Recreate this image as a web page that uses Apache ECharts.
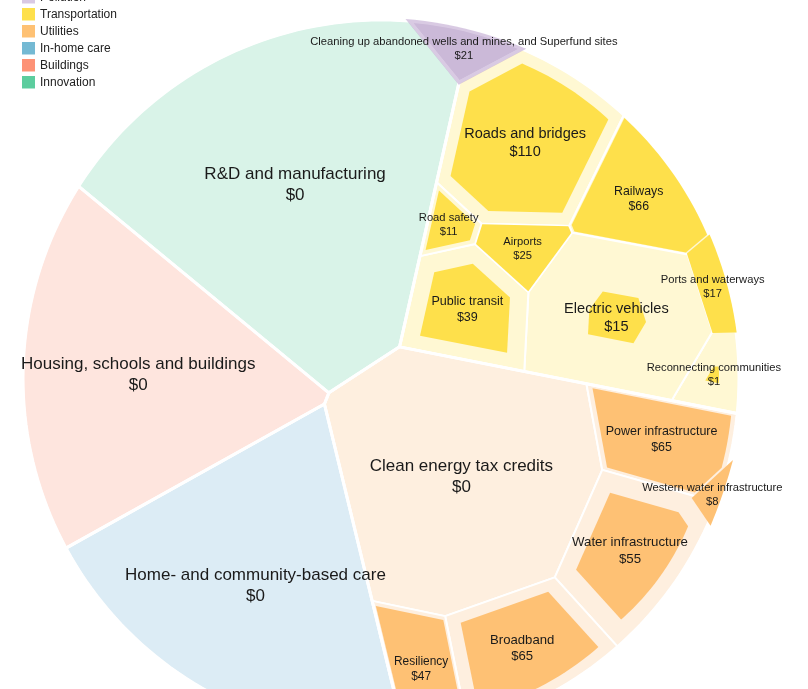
<!DOCTYPE html>
<html><head><meta charset="utf-8">
<script src="https://cdn.jsdelivr.net/npm/echarts@6/dist/echarts.min.js"></script>
<style>html,body{margin:0;padding:0;background:#fff}#c{width:808px;height:689px}</style>
</head><body><div id="c"></div>
<script>
// ---------------- DATA ----------------
const categories = ['Pollution','Transportation','Utilities','In-home care','Buildings','Innovation'];
const itemNames = [
  'Cleaning up abandoned wells and mines, and Superfund sites',
  'Roads and bridges','Railways','Ports and waterways','Reconnecting communities','Electric vehicles','Public transit','Airports','Road safety',
  'Clean energy tax credits','Power infrastructure','Western water infrastructure','Water infrastructure','Broadband','Resiliency',
  'Home- and community-based care','Housing, schools and buildings','R&D and manufacturing'
];
const itemCategory = [
  'Pollution',
  'Transportation','Transportation','Transportation','Transportation','Transportation','Transportation','Transportation','Transportation',
  'Utilities','Utilities','Utilities','Utilities','Utilities','Utilities',
  'In-home care','Buildings','Innovation'
];
// proposed amounts (cell size, $ billions)
const itemProposed = [18, 155,71,16,24,158,80,26,17, 373,77,4,107,102,55, 425,400,585];
// infrastructure deal amounts ($ billions, labels)
const itemDeal     = [21, 110,66,17,1,15,39,25,11, 0,65,8,55,65,47, 0,0,0];

// ---------------- STYLE / LAYOUT ----------------
const legendColors = {'Pollution':'#d9c9e3','Transportation':'#fee04b','Utilities':'#fec174','In-home care':'#74b9d3','Buildings':'#fd9276','Innovation':'#5ccd9e'};
const darkColors   = {'Pollution':'rgba(179,149,199,0.5)','Transportation':'#fee04b','Utilities':'#fec174','In-home care':'#74b9d3','Buildings':'#fd9276','Innovation':'#5ccd9e'};
const lightColors  = {'Pollution':'#e3dde9','Transportation':'#fff8d3','Utilities':'#feefdf','In-home care':'#dcecf5','Buildings':'#fee5de','Innovation':'#d9f3e8'};
const W = 808, H = 689, CX = 381, CY = 378, RPX = 358;
const TOP_START = 76;                 // degrees, categories laid clockwise from here
const GROUP_START = {'Transportation':140, 'Utilities':200};
const FONT = 'Liberation Sans, Arial, Helvetica, sans-serif';

// ---------------- GEOMETRY ----------------
function clipHalf(poly, a, b, c) {
  const out = [], n = poly.length;
  for (let i = 0; i < n; i++) {
    const P = poly[i], Q = poly[(i + 1) % n];
    const fp = a * P[0] + b * P[1] - c, fq = a * Q[0] + b * Q[1] - c;
    if (fp <= 0) out.push(P);
    if ((fp <= 0) !== (fq <= 0)) {
      const t = fp / (fp - fq);
      out.push([P[0] + t * (Q[0] - P[0]), P[1] + t * (Q[1] - P[1])]);
    }
  }
  return out;
}
function polyArea(p) {
  if (!p || p.length < 3) return 0;
  let s = 0;
  for (let i = 0; i < p.length; i++) { const a = p[i], b = p[(i + 1) % p.length]; s += a[0] * b[1] - b[0] * a[1]; }
  return Math.abs(s) / 2;
}
function polyCentroid(p) {
  let a = 0, cx = 0, cy = 0;
  for (let i = 0; i < p.length; i++) {
    const [x0, y0] = p[i], [x1, y1] = p[(i + 1) % p.length];
    const f = x0 * y1 - x1 * y0; a += f; cx += (x0 + x1) * f; cy += (y0 + y1) * f;
  }
  a *= 0.5;
  return [cx / (6 * a), cy / (6 * a)];
}
function inside(p, poly) {
  let c = false;
  for (let i = 0, j = poly.length - 1; i < poly.length; j = i++) {
    const xi = poly[i][0], yi = poly[i][1], xj = poly[j][0], yj = poly[j][1];
    if (((yi > p[1]) !== (yj > p[1])) && (p[0] < (xj - xi) * (p[1] - yi) / (yj - yi) + xi)) c = !c;
  }
  return c;
}
function powerDiagram(sites, w, clip) {
  return sites.map((p, i) => {
    let poly = clip;
    for (let j = 0; j < sites.length; j++) {
      if (j === i) continue;
      const q = sites[j];
      const a = 2 * (q[0] - p[0]), b = 2 * (q[1] - p[1]);
      const c = (q[0] * q[0] + q[1] * q[1]) - (p[0] * p[0] + p[1] * p[1]) - w[j] + w[i];
      poly = clipHalf(poly, a, b, c);
      if (poly.length < 3) return [];
    }
    return poly;
  });
}
function voronoiTreemap(clip, values, init) {
  const n = values.length;
  if (n === 1) return [clip];
  const A = polyArea(clip), tot = values.reduce((s, v) => s + v, 0);
  const target = values.map(v => v / tot * A);
  const sites = init.map(p => p.slice());
  const w = values.map(() => A / n * 0.2);
  let cells = powerDiagram(sites, w, clip);
  for (let it = 0; it < 1500; it++) {
    const areas = cells.map(polyArea);
    let err = 0;
    for (let i = 0; i < n; i++) err += Math.abs(areas[i] - target[i]);
    if (err / A < 0.002) break;
    for (let i = 0; i < n; i++) if (areas[i] > A * 1e-9) sites[i] = polyCentroid(cells[i]);
    const lim = Math.max(0.03, 0.4 * Math.pow(0.995, it));
    for (let i = 0; i < n; i++) {
      let r = areas[i] > A * 1e-9 ? target[i] / areas[i] : 1 + lim;
      r = Math.min(1 + lim, Math.max(1 - lim, r));
      w[i] = Math.max(w[i] * r, A * 1e-7);
    }
    for (let pass = 0; pass < 4; pass++)
      for (let i = 0; i < n; i++) for (let j = 0; j < n; j++) {
        if (i === j) continue;
        const dx = sites[i][0] - sites[j][0], dy = sites[i][1] - sites[j][1];
        const d2 = dx * dx + dy * dy;
        if (w[i] - w[j] > d2) w[i] = w[j] + d2 * 0.999;
      }
    cells = powerDiagram(sites, w, clip);
  }
  return cells;
}
function ringSites(center, radius, clip, values, startDeg) {
  const tot = values.reduce((s, v) => s + v, 0);
  let cum = 0;
  return values.map(v => {
    const th = (startDeg - (cum + v / 2) / tot * 360) * Math.PI / 180;
    cum += v;
    let r = radius, p;
    for (let k = 0; k < 30; k++) {
      p = [center[0] + r * Math.cos(th), center[1] + r * Math.sin(th)];
      if (inside(p, clip)) break;
      r *= 0.8;
    }
    return p;
  });
}

// ---------------- LAYOUT ----------------
const circle = [];
for (let k = 0; k < 240; k++) { const t = k / 240 * Math.PI * 2; circle.push([Math.cos(t), Math.sin(t)]); }

const catTotals = categories.map(c => itemProposed.reduce((s, v, i) => s + (itemCategory[i] === c ? v : 0), 0));
const catCells = voronoiTreemap(circle, catTotals, ringSites([0, 0], 0.55, circle, catTotals, TOP_START));

const itemCells = new Array(itemNames.length);
categories.forEach((c, k) => {
  const idx = itemNames.map((n, i) => i).filter(i => itemCategory[i] === c);
  const vals = idx.map(i => itemProposed[i]);
  const clip = catCells[k];
  const cc = polyCentroid(clip), rp = Math.sqrt(polyArea(clip) / Math.PI);
  const init = ringSites(cc, 0.55 * rp, clip, vals, GROUP_START[c] !== undefined ? GROUP_START[c] : 90);
  const cells = voronoiTreemap(clip, vals, init);
  idx.forEach((i, m) => { itemCells[i] = cells[m]; });
});
const itemCentroids = itemCells.map(polyCentroid);
const darkCells = itemCells.map((cell, i) => {
  if (!(itemDeal[i] > 0)) return null;
  const s = Math.sqrt(itemDeal[i] / itemProposed[i]);
  const c = itemCentroids[i];
  return cell.map(p => [c[0] + s * (p[0] - c[0]), c[1] + s * (p[1] - c[1])]);
});

// ---------------- CHART ----------------
const chart = echarts.init(document.getElementById('c'), null, {renderer: 'canvas'});
const XMIN = -CX / RPX, XMAX = (W - CX) / RPX, YMAX = CY / RPX, YMIN = -(H - CY) / RPX;

const legendSeries = categories.map(c => ({type: 'scatter', name: c, data: [], itemStyle: {color: legendColors[c], opacity: 1}}));

const option = {
  animation: false,
  grid: {left: 0, right: 0, top: 0, bottom: 0},
  xAxis: {type: 'value', min: XMIN, max: XMAX, show: false},
  yAxis: {type: 'value', min: YMIN, max: YMAX, show: false},
  legend: {
    orient: 'vertical', left: 17, top: -14, itemWidth: 13, itemHeight: 12.5, itemGap: 4.5, icon: 'rect',
    selectedMode: false,
    data: categories.map(c => ({name: c, itemStyle: {color: legendColors[c], opacity: 1}})),
    textStyle: {fontSize: 12, color: '#222', fontFamily: FONT}
  },
  series: legendSeries.concat([
    {
      type: 'custom', name: 'cells', coordinateSystem: 'cartesian2d', clip: false, silent: true, z: 1,
      data: itemNames.map((n, i) => ({name: n, value: itemCentroids[i]})),
      renderItem: (params, api) => {
        const i = params.dataIndex;
        return {type: 'polygon', shape: {points: itemCells[i].map(p => api.coord(p))},
          style: {fill: lightColors[itemCategory[i]], stroke: '#fff', lineWidth: 2, lineJoin: 'round'}};
      }
    },
    {
      type: 'custom', name: 'groups', coordinateSystem: 'cartesian2d', clip: false, silent: true, z: 2,
      data: categories.map((c, k) => ({name: c, value: polyCentroid(catCells[k])})),
      renderItem: (params, api) => {
        const k = params.dataIndex;
        return {type: 'polygon', shape: {points: catCells[k].map(p => api.coord(p))},
          style: {fill: 'none', stroke: '#fff', lineWidth: 3, lineJoin: 'round'}};
      }
    },
    {
      type: 'custom', name: 'deal', coordinateSystem: 'cartesian2d', clip: false, silent: true, z: 3,
      data: itemNames.map((n, i) => ({name: n, value: itemCentroids[i].concat([itemDeal[i]])})),
      renderItem: (params, api) => {
        const i = params.dataIndex;
        if (!darkCells[i]) return null;
        return {type: 'polygon', shape: {points: darkCells[i].map(p => api.coord(p))},
          style: {fill: darkColors[itemCategory[i]], stroke: 'none'}};
      }
    },
    {
      type: 'custom', name: 'labels', coordinateSystem: 'cartesian2d', clip: false, silent: true, z: 4,
      data: itemNames.map((n, i) => ({name: n, value: itemCentroids[i].concat([itemDeal[i]])})),
      renderItem: (params, api) => {
        const i = params.dataIndex;
        const pts = itemCells[i].map(p => api.coord(p));
        const areaPx = polyArea(pts);
        const fs = Math.max(11.2, Math.min(17, 11 + 3.5 * (areaPx - 3000) / 20000));
        const c = api.coord(itemCentroids[i]);
        return {type: 'text', x: c[0], y: c[1],
          style: {text: itemNames[i] + '\n$' + itemDeal[i], fill: '#1a1a1a', fontSize: fs, fontFamily: FONT,
            align: 'center', verticalAlign: 'middle', lineHeight: Math.round(fs * 1.25)}};
      }
    }
  ])
};
chart.setOption(option);
</script>
</body></html>
